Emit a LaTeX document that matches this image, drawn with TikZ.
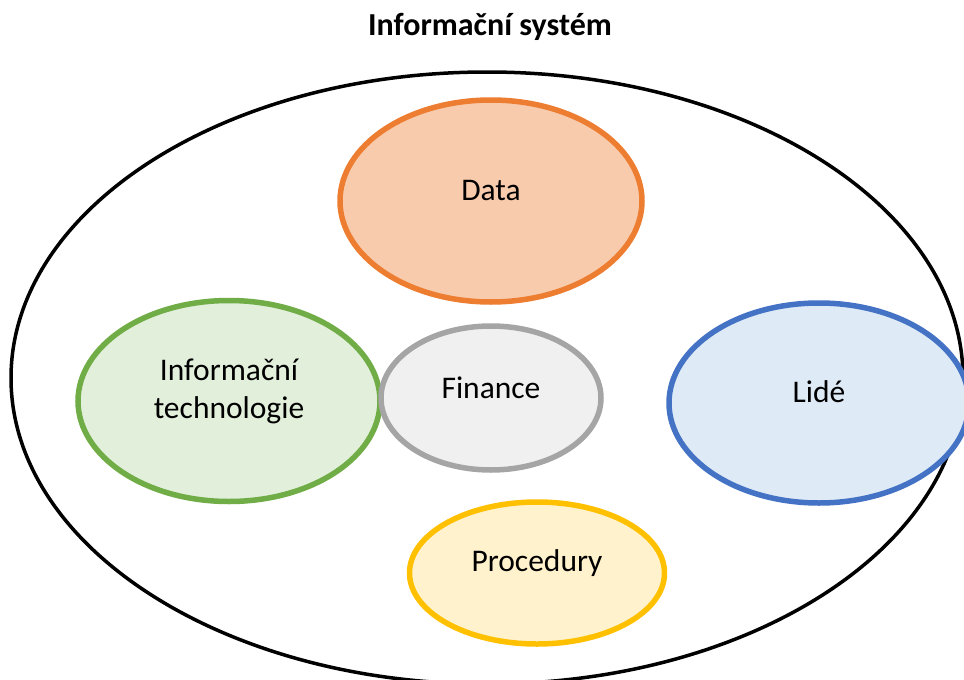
\documentclass[tikz,border=0pt]{standalone}
\usepackage{fontspec}
\setmainfont{Carlito}
\usetikzlibrary{shapes.geometric}

\definecolor{dataline}{HTML}{ED7D31}
\definecolor{datafill}{HTML}{F8CBAD}
\definecolor{itline}{HTML}{70AD47}
\definecolor{itfill}{HTML}{E2EFDA}
\definecolor{finline}{HTML}{A5A5A5}
\definecolor{finfill}{HTML}{F0F0F0}
\definecolor{peopleline}{HTML}{4472C4}
\definecolor{peoplefill}{HTML}{DEEBF7}
\definecolor{procline}{HTML}{FFC000}
\definecolor{procfill}{HTML}{FFF2CC}

\begin{document}
\begin{tikzpicture}[x=1pt,y=-1pt,
    part/.style={ellipse, line width=5.5pt, inner sep=0pt},
    partlabel/.style={font=\fontsize{31.5}{38}\selectfont, align=center}]
        \useasboundingbox (0,0) rectangle (964,680);
        \clip (0,0) rectangle (964,680);

        % Title above the system
        \node[font=\fontsize{32}{38}\selectfont\bfseries] (title) at (490,27) {Informační systém};

        % The whole system as one big ellipse
        \node[ellipse, draw, line width=3.5pt, minimum width=952pt, minimum height=612pt, inner sep=0pt] (system) at (487,378) {};

        % Its parts
        \node[part, draw=dataline, fill=datafill, minimum width=302pt, minimum height=202pt] (data) at (491,201) {};
        \node[part, draw=itline, fill=itfill, minimum width=302pt, minimum height=201pt] (it) at (229,401) {};
        \node[part, draw=finline, fill=finfill, minimum width=220pt, minimum height=144pt] (finance) at (491,398) {};
        \node[part, draw=peopleline, fill=peoplefill, minimum width=300pt, minimum height=200pt] (people) at (819,403) {};
        \node[part, draw=procline, fill=procfill, minimum width=255pt, minimum height=142pt] (proc) at (537,573) {};

        % Labels sit a bit above the centres
        \node[partlabel] (datatext) at ([yshift=10pt]data.center) {Data};
        \node[partlabel] (ittext) at ([yshift=10pt]it.center) {Informační\\technologie};
        \node[partlabel] (fintext) at ([yshift=10pt]finance.center) {Finance};
        \node[partlabel] (peopletext) at ([yshift=11pt]people.center) {Lidé};
        \node[partlabel] (proctext) at ([yshift=10pt]proc.center) {Procedury};
    \end{tikzpicture}
\end{document}
